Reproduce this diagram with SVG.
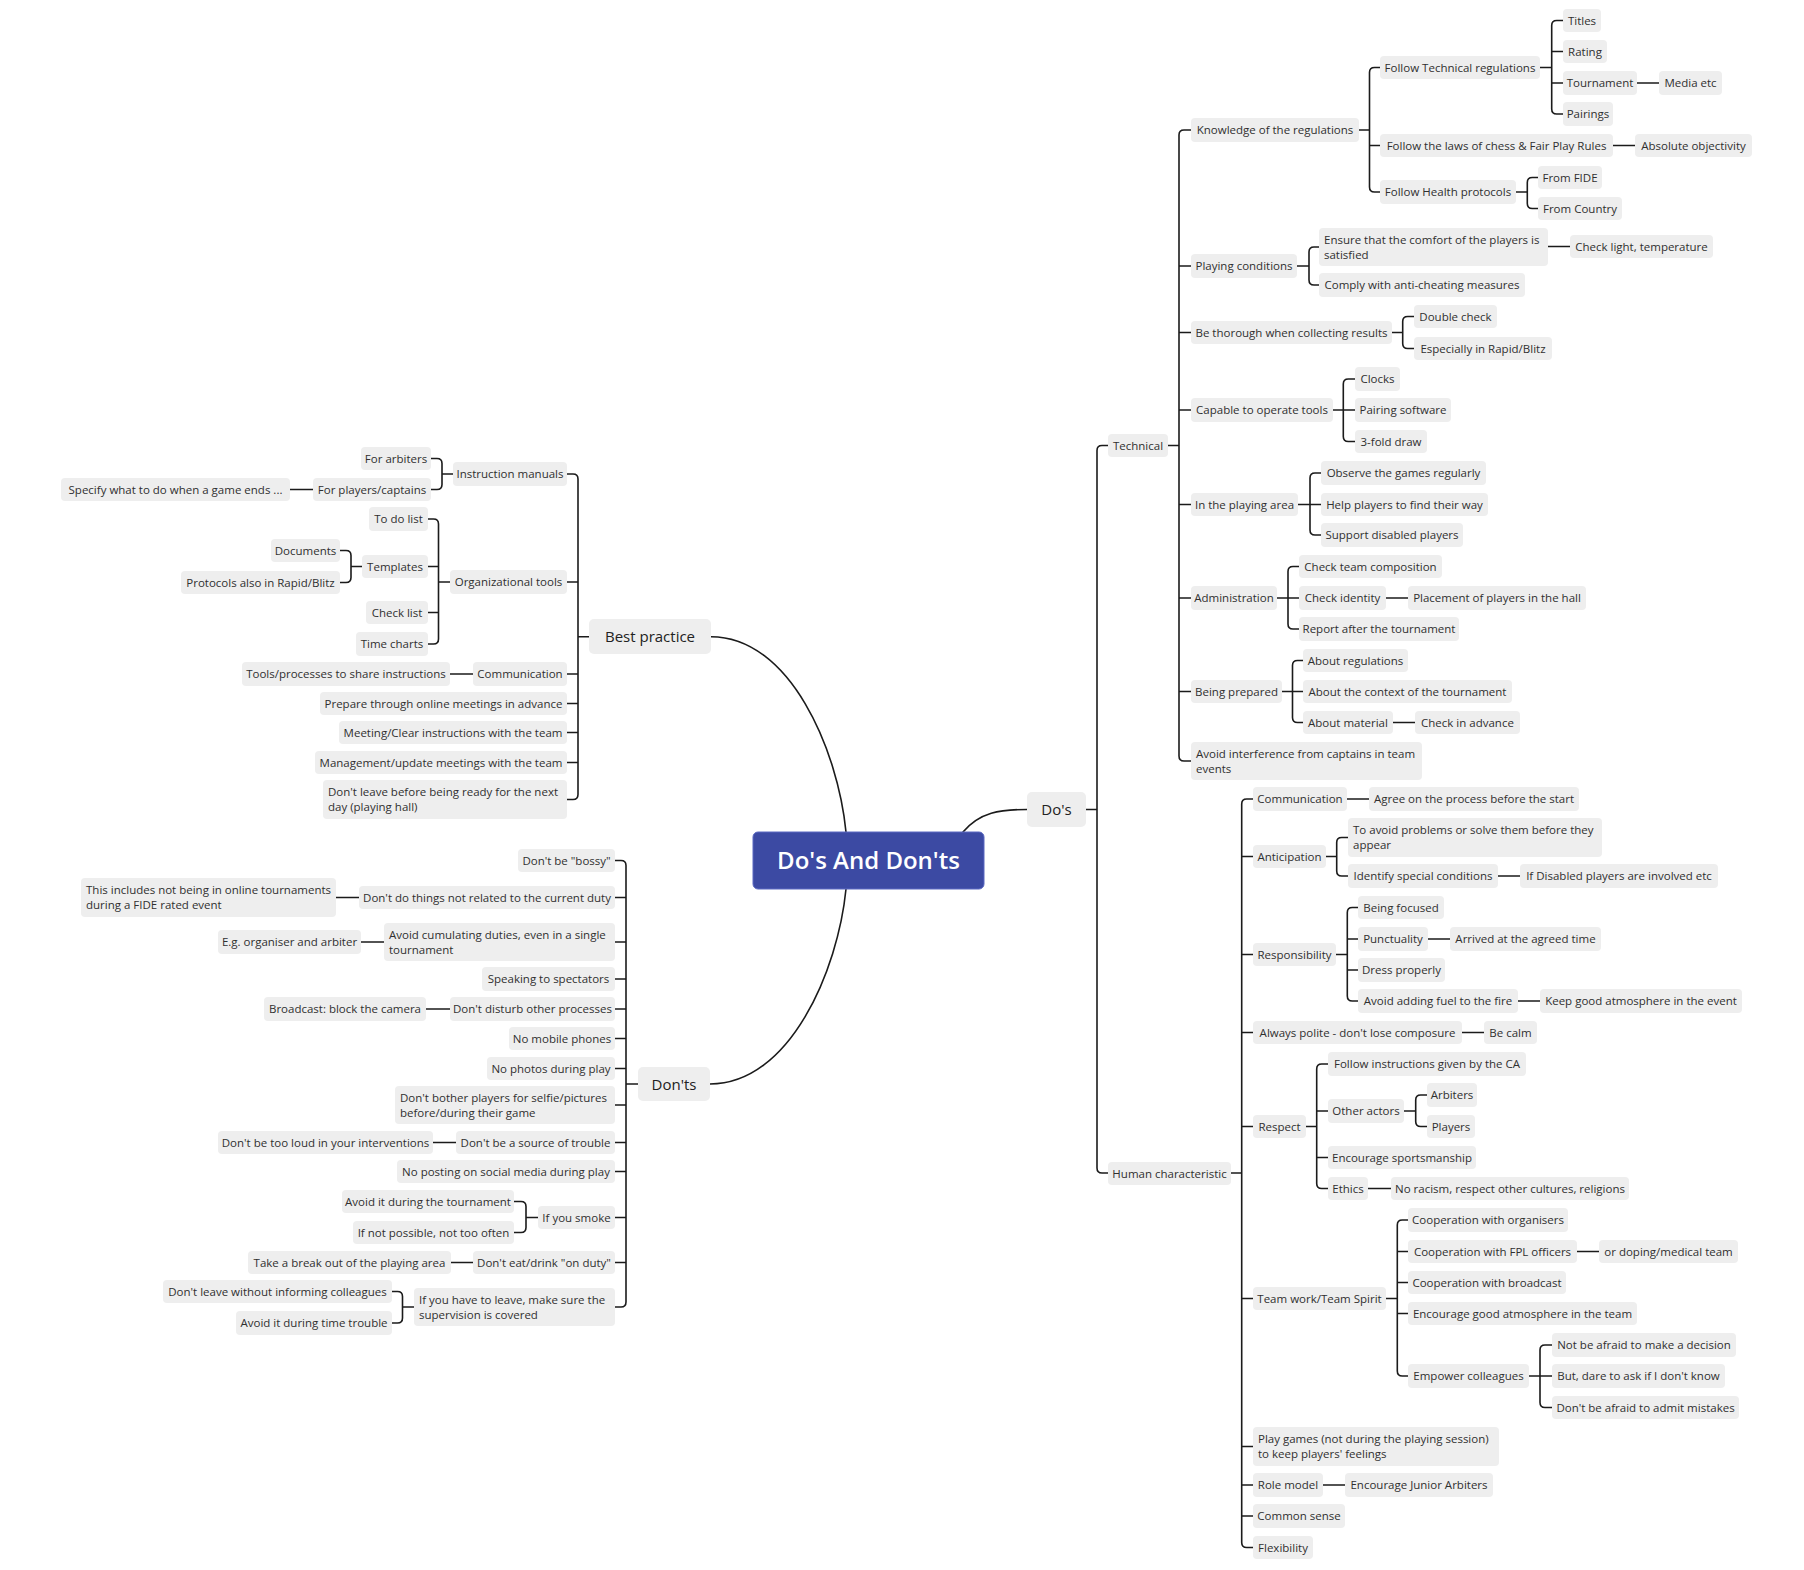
<svg xmlns="http://www.w3.org/2000/svg" width="1804" height="1570" viewBox="0 0 1804 1570">
<style>
.node rect{fill:#eeeeee}
.node text{font-family:"Open Sans","Noto Sans","Liberation Sans",sans-serif;font-size:11.5px;fill:#303030;text-anchor:middle}
.node text.l{text-anchor:start}
.main text{font-size:15px;fill:#222222}
#central rect{fill:#3c4aa3;stroke:#5a68c2;stroke-width:1}
#central text{font-family:"Open Sans","Noto Sans","Liberation Sans",sans-serif;font-size:24px;font-weight:600;fill:#ffffff;text-anchor:middle}
#connectors path{fill:none;stroke:#1b1b1b;stroke-width:1.6;stroke-linecap:round}
</style>
<rect width="1804" height="1570" fill="#ffffff"/>
<g id="connectors">
<path d="M711,636.7C790,636.7 838,750 846,832"/>
<path d="M710,1084C790,1084 838,970 846,889"/>
<path d="M963,832C980,812 1000,809.5 1027,809.5"/>
<path d="M589,636.7H578M567,474H573Q578,474 578,479V794.5Q578,799.5 573,799.5H567M578,582H567M578,674H567M578,703.5H567M578,732.5H567M578,762.5H567"/>
<path d="M453,474H442M431,458.5H437Q442,458.5 442,463.5V484.5Q442,489.5 437,489.5H431"/>
<path d="M313,489.5H290"/>
<path d="M450,582H438.5M428,519H433.5Q438.5,519 438.5,524V639Q438.5,644 433.5,644H428M438.5,566.5H428M438.5,612.5H428"/>
<path d="M362,566.5H351M340,550.5H346Q351,550.5 351,555.5V577.5Q351,582.5 346,582.5H340"/>
<path d="M473,674H450"/>
<path d="M638,1084H626M615,860.5H621Q626,860.5 626,865.5V1302Q626,1307 621,1307H615M626,897.5H615M626,942H615M626,979H615M626,1009H615M626,1038.5H615M626,1068.5H615M626,1105H615M626,1142.5H615M626,1171.5H615M626,1217.5H615M626,1262.5H615"/>
<path d="M359,897.5H336M384,942H361M450,1009H426M456,1142.5H433M473,1262.5H451"/>
<path d="M538,1217.5H526M514,1201.5H521Q526,1201.5 526,1206.5V1227.5Q526,1232.5 521,1232.5H514"/>
<path d="M414,1307H402.5M392,1291.5H397.5Q402.5,1291.5 402.5,1296.5V1318Q402.5,1323 397.5,1323H392"/>
<path d="M1086,809.5H1097M1108,445.5H1102Q1097,445.5 1097,450.5V1168Q1097,1173 1102,1173H1108"/>
<path d="M1168,445.5H1179M1191,130H1184Q1179,130 1179,135V756Q1179,761 1184,761H1191M1179,266H1191M1179,332.5H1191M1179,410H1191M1179,504.5H1191M1179,598H1191M1179,691.5H1191"/>
<path d="M1359,130H1369.5M1380,67.5H1374.5Q1369.5,67.5 1369.5,72.5V187Q1369.5,192 1374.5,192H1380M1369.5,145.5H1380"/>
<path d="M1540,67.5H1551.7M1563,20.5H1556.7Q1551.7,20.5 1551.7,25.5V109Q1551.7,114 1556.7,114H1563M1551.7,51.5H1563M1551.7,83H1563"/>
<path d="M1637,83H1659M1613,145.5H1635"/>
<path d="M1516,192H1527.3M1538,177.5H1532.3Q1527.3,177.5 1527.3,182.5V203.5Q1527.3,208.5 1532.3,208.5H1538"/>
<path d="M1297,266H1309M1319,247H1314Q1309,247 1309,252V280Q1309,285 1314,285H1319"/>
<path d="M1548,246.5H1570"/>
<path d="M1392,332.5H1402.7M1414,316.5H1407.7Q1402.7,316.5 1402.7,321.5V343.5Q1402.7,348.5 1407.7,348.5H1414"/>
<path d="M1333,410H1343.3M1355,379H1348.3Q1343.3,379 1343.3,384V436.5Q1343.3,441.5 1348.3,441.5H1355M1343.3,410H1355"/>
<path d="M1298,504.5H1310M1321,473H1315Q1310,473 1310,478V530Q1310,535 1315,535H1321M1310,504.5H1321"/>
<path d="M1277,598H1288M1299,566.5H1293Q1288,566.5 1288,571.5V624Q1288,629 1293,629H1299M1288,598H1299"/>
<path d="M1386,598H1408"/>
<path d="M1282,691.5H1292.5M1303,660.5H1297.5Q1292.5,660.5 1292.5,665.5V717.5Q1292.5,722.5 1297.5,722.5H1303M1292.5,691.5H1303"/>
<path d="M1393,722.5H1415"/>
<path d="M1231,1173H1241.7M1253,799H1246.7Q1241.7,799 1241.7,804V1542.5Q1241.7,1547.5 1246.7,1547.5H1253M1241.7,856.5H1253M1241.7,954.5H1253M1241.7,1032.5H1253M1241.7,1126.5H1253M1241.7,1298.5H1253M1241.7,1446.5H1253M1241.7,1485H1253M1241.7,1516H1253"/>
<path d="M1347,799H1369"/>
<path d="M1326,856.5H1336.7M1348,837.5H1341.7Q1336.7,837.5 1336.7,842.5V871Q1336.7,876 1341.7,876H1348"/>
<path d="M1498,876H1520"/>
<path d="M1336,954.5H1347.3M1358,907.5H1352.3Q1347.3,907.5 1347.3,912.5V996Q1347.3,1001 1352.3,1001H1358M1347.3,939H1358M1347.3,970H1358"/>
<path d="M1428,939H1450M1518,1001H1540M1462,1032.5H1484"/>
<path d="M1306,1126.5H1316.7M1328,1064H1321.7Q1316.7,1064 1316.7,1069V1183.5Q1316.7,1188.5 1321.7,1188.5H1328M1316.7,1111H1328M1316.7,1157.5H1328"/>
<path d="M1404,1111H1415.7M1427,1095H1420.7Q1415.7,1095 1415.7,1100V1121.5Q1415.7,1126.5 1420.7,1126.5H1427"/>
<path d="M1368,1188.5H1391"/>
<path d="M1386,1298.5H1397.3M1408,1220H1402.3Q1397.3,1220 1397.3,1225V1371Q1397.3,1376 1402.3,1376H1408M1397.3,1251.5H1408M1397.3,1282.5H1408M1397.3,1313.5H1408"/>
<path d="M1577,1251.5H1599"/>
<path d="M1529,1376H1540M1552,1345H1545Q1540,1345 1540,1350V1402.5Q1540,1407.5 1545,1407.5H1552M1540,1376H1552"/>
<path d="M1323,1485H1345"/>
</g>
<g id="central"><rect x="753" y="832" width="231" height="57" rx="5"/><text x="868.5" y="869">Do's And Don'ts</text></g>
<g id="best-practice" class="node main"><rect x="589" y="619" width="122" height="35" rx="5"/><text x="650" y="642">Best practice</text></g>
<g id="donts" class="node main"><rect x="638" y="1067" width="72" height="34" rx="5"/><text x="674" y="1089.5">Don'ts</text></g>
<g id="dos" class="node main"><rect x="1027" y="792" width="59" height="35" rx="5"/><text x="1056.5" y="815">Do's</text></g>
<g id="bp-arbiters" class="node"><rect x="361" y="447" width="70" height="23" rx="4"/><text x="396" y="462.5">For arbiters</text></g>
<g id="bp-players" class="node"><rect x="313" y="478" width="118" height="23" rx="4"/><text x="372" y="493.5">For players/captains</text></g>
<g id="bp-specify" class="node"><rect x="61" y="478" width="229" height="23" rx="4"/><text x="175.5" y="493.5">Specify what to do when a game ends ...</text></g>
<g id="bp-manuals" class="node"><rect x="453" y="462" width="114" height="24" rx="4"/><text x="510" y="478">Instruction manuals</text></g>
<g id="bp-todo" class="node"><rect x="369" y="507" width="59" height="24" rx="4"/><text x="398.5" y="523">To do list</text></g>
<g id="bp-docs" class="node"><rect x="271" y="539" width="69" height="23" rx="4"/><text x="305.5" y="554.5">Documents</text></g>
<g id="bp-templates" class="node"><rect x="362" y="555" width="66" height="23" rx="4"/><text x="395" y="570.5">Templates</text></g>
<g id="bp-protocols" class="node"><rect x="181" y="571" width="159" height="23" rx="4"/><text x="260.5" y="586.5">Protocols also in Rapid/Blitz</text></g>
<g id="bp-org" class="node"><rect x="450" y="570" width="117" height="24" rx="4"/><text x="508.5" y="586">Organizational tools</text></g>
<g id="bp-check" class="node"><rect x="366" y="601" width="62" height="23" rx="4"/><text x="397" y="616.5">Check list</text></g>
<g id="bp-time" class="node"><rect x="356" y="632" width="72" height="24" rx="4"/><text x="392" y="648">Time charts</text></g>
<g id="bp-comm" class="node"><rect x="473" y="662" width="94" height="24" rx="4"/><text x="520" y="678">Communication</text></g>
<g id="bp-tools" class="node"><rect x="242" y="662" width="208" height="24" rx="4"/><text x="346" y="678">Tools/processes to share instructions</text></g>
<g id="bp-prepare" class="node"><rect x="320" y="692" width="247" height="23" rx="4"/><text x="443.5" y="707.5">Prepare through online meetings in advance</text></g>
<g id="bp-meeting" class="node"><rect x="339" y="721" width="228" height="23" rx="4"/><text x="453" y="736.5">Meeting/Clear instructions with the team</text></g>
<g id="bp-mgmt" class="node"><rect x="315" y="751" width="252" height="23" rx="4"/><text x="441" y="766.5">Management/update meetings with the team</text></g>
<g id="bp-leave" class="node"><rect x="323" y="780" width="244" height="39" rx="4"/><text class="l" x="328" y="796">Don't leave before being ready for the next</text><text class="l" x="328" y="811">day (playing hall)</text></g>
<g id="d-bossy" class="node"><rect x="518" y="849" width="97" height="23" rx="4"/><text x="566.5" y="864.5">Don't be "bossy"</text></g>
<g id="d-duty" class="node"><rect x="359" y="886" width="256" height="23" rx="4"/><text x="487" y="901.5">Don't do things not related to the current duty</text></g>
<g id="d-online" class="node"><rect x="81" y="878" width="255" height="39" rx="4"/><text class="l" x="86" y="894">This includes not being in online tournaments</text><text class="l" x="86" y="909">during a FIDE rated event</text></g>
<g id="d-cumul" class="node"><rect x="384" y="923" width="231" height="38" rx="4"/><text class="l" x="389" y="938.5">Avoid cumulating duties, even in a single</text><text class="l" x="389" y="953.5">tournament</text></g>
<g id="d-eg" class="node"><rect x="218" y="930" width="143" height="24" rx="4"/><text x="289.5" y="946">E.g. organiser and arbiter</text></g>
<g id="d-spect" class="node"><rect x="482" y="967" width="133" height="24" rx="4"/><text x="548.5" y="983">Speaking to spectators</text></g>
<g id="d-disturb" class="node"><rect x="450" y="997" width="165" height="24" rx="4"/><text x="532.5" y="1013">Don't disturb other processes</text></g>
<g id="d-camera" class="node"><rect x="264" y="997" width="162" height="24" rx="4"/><text x="345" y="1013">Broadcast: block the camera</text></g>
<g id="d-mobile" class="node"><rect x="509" y="1027" width="106" height="23" rx="4"/><text x="562" y="1042.5">No mobile phones</text></g>
<g id="d-photos" class="node"><rect x="487" y="1057" width="128" height="23" rx="4"/><text x="551" y="1072.5">No photos during play</text></g>
<g id="d-selfie" class="node"><rect x="395" y="1086" width="220" height="38" rx="4"/><text class="l" x="400" y="1101.5">Don't bother players for selfie/pictures</text><text class="l" x="400" y="1116.5">before/during their game</text></g>
<g id="d-trouble" class="node"><rect x="456" y="1131" width="159" height="23" rx="4"/><text x="535.5" y="1146.5">Don't be a source of trouble</text></g>
<g id="d-loud" class="node"><rect x="218" y="1131" width="215" height="23" rx="4"/><text x="325.5" y="1146.5">Don't be too loud in your interventions</text></g>
<g id="d-social" class="node"><rect x="397" y="1160" width="218" height="23" rx="4"/><text x="506" y="1175.5">No posting on social media during play</text></g>
<g id="d-smoke" class="node"><rect x="538" y="1206" width="77" height="23" rx="4"/><text x="576.5" y="1221.5">If you smoke</text></g>
<g id="d-smoke-a" class="node"><rect x="342" y="1190" width="172" height="23" rx="4"/><text x="428" y="1205.5">Avoid it during the tournament</text></g>
<g id="d-smoke-b" class="node"><rect x="353" y="1221" width="161" height="23" rx="4"/><text x="433.5" y="1236.5">If not possible, not too often</text></g>
<g id="d-eat" class="node"><rect x="473" y="1251" width="142" height="23" rx="4"/><text x="544" y="1266.5">Don't eat/drink "on duty"</text></g>
<g id="d-break" class="node"><rect x="248" y="1251" width="203" height="23" rx="4"/><text x="349.5" y="1266.5">Take a break out of the playing area</text></g>
<g id="d-leave" class="node"><rect x="414" y="1288" width="201" height="38" rx="4"/><text class="l" x="419" y="1303.5">If you have to leave, make sure the</text><text class="l" x="419" y="1318.5">supervision is covered</text></g>
<g id="d-leave-a" class="node"><rect x="163" y="1280" width="229" height="23" rx="4"/><text x="277.5" y="1295.5">Don't leave without informing colleagues</text></g>
<g id="d-leave-b" class="node"><rect x="236" y="1311" width="156" height="24" rx="4"/><text x="314" y="1327">Avoid it during time trouble</text></g>
<g id="technical" class="node"><rect x="1108" y="434" width="60" height="23" rx="4"/><text x="1138" y="449.5">Technical</text></g>
<g id="t-knowledge" class="node"><rect x="1191" y="118" width="168" height="24" rx="4"/><text x="1275" y="134">Knowledge of the regulations</text></g>
<g id="t-techreg" class="node"><rect x="1380" y="56" width="160" height="23" rx="4"/><text x="1460" y="71.5">Follow Technical regulations</text></g>
<g id="t-titles" class="node"><rect x="1563" y="9" width="38" height="23" rx="4"/><text x="1582" y="24.5">Titles</text></g>
<g id="t-rating" class="node"><rect x="1563" y="40" width="44" height="23" rx="4"/><text x="1585" y="55.5">Rating</text></g>
<g id="t-tournament" class="node"><rect x="1563" y="71" width="74" height="24" rx="4"/><text x="1600" y="87">Tournament</text></g>
<g id="t-media" class="node"><rect x="1659" y="71" width="63" height="24" rx="4"/><text x="1690.5" y="87">Media etc</text></g>
<g id="t-pairings" class="node"><rect x="1563" y="102" width="50" height="24" rx="4"/><text x="1588" y="118">Pairings</text></g>
<g id="t-laws" class="node"><rect x="1380" y="134" width="233" height="23" rx="4"/><text x="1496.5" y="149.5">Follow the laws of chess &amp; Fair Play Rules</text></g>
<g id="t-objectivity" class="node"><rect x="1635" y="134" width="117" height="23" rx="4"/><text x="1693.5" y="149.5">Absolute objectivity</text></g>
<g id="t-health" class="node"><rect x="1380" y="180" width="136" height="24" rx="4"/><text x="1448" y="196">Follow Health protocols</text></g>
<g id="t-fide" class="node"><rect x="1538" y="166" width="64" height="23" rx="4"/><text x="1570" y="181.5">From FIDE</text></g>
<g id="t-country" class="node"><rect x="1538" y="197" width="84" height="23" rx="4"/><text x="1580" y="212.5">From Country</text></g>
<g id="t-playing" class="node"><rect x="1191" y="254" width="106" height="24" rx="4"/><text x="1244" y="270">Playing conditions</text></g>
<g id="t-comfort" class="node"><rect x="1319" y="228" width="229" height="38" rx="4"/><text class="l" x="1324" y="243.5">Ensure that the comfort of the players is</text><text class="l" x="1324" y="258.5">satisfied</text></g>
<g id="t-light" class="node"><rect x="1570" y="235" width="143" height="23" rx="4"/><text x="1641.5" y="250.5">Check light, temperature</text></g>
<g id="t-cheating" class="node"><rect x="1319" y="273" width="206" height="24" rx="4"/><text x="1422" y="289">Comply with anti-cheating measures</text></g>
<g id="t-results" class="node"><rect x="1191" y="321" width="201" height="23" rx="4"/><text x="1291.5" y="336.5">Be thorough when collecting results</text></g>
<g id="t-double" class="node"><rect x="1414" y="305" width="83" height="23" rx="4"/><text x="1455.5" y="320.5">Double check</text></g>
<g id="t-rapid" class="node"><rect x="1414" y="337" width="138" height="23" rx="4"/><text x="1483" y="352.5">Especially in Rapid/Blitz</text></g>
<g id="t-tools" class="node"><rect x="1191" y="398" width="142" height="24" rx="4"/><text x="1262" y="414">Capable to operate tools</text></g>
<g id="t-clocks" class="node"><rect x="1355" y="367" width="45" height="24" rx="4"/><text x="1377.5" y="383">Clocks</text></g>
<g id="t-pairsoft" class="node"><rect x="1355" y="398" width="96" height="24" rx="4"/><text x="1403" y="414">Pairing software</text></g>
<g id="t-3fold" class="node"><rect x="1355" y="430" width="72" height="23" rx="4"/><text x="1391" y="445.5">3-fold draw</text></g>
<g id="t-area" class="node"><rect x="1191" y="493" width="107" height="23" rx="4"/><text x="1244.5" y="508.5">In the playing area</text></g>
<g id="t-observe" class="node"><rect x="1321" y="461" width="165" height="24" rx="4"/><text x="1403.5" y="477">Observe the games regularly</text></g>
<g id="t-help" class="node"><rect x="1321" y="493" width="167" height="23" rx="4"/><text x="1404.5" y="508.5">Help players to find their way</text></g>
<g id="t-disabled" class="node"><rect x="1321" y="523" width="142" height="24" rx="4"/><text x="1392" y="539">Support disabled players</text></g>
<g id="t-admin" class="node"><rect x="1191" y="586" width="86" height="24" rx="4"/><text x="1234" y="602">Administration</text></g>
<g id="t-team" class="node"><rect x="1299" y="555" width="143" height="23" rx="4"/><text x="1370.5" y="570.5">Check team composition</text></g>
<g id="t-identity" class="node"><rect x="1299" y="586" width="87" height="24" rx="4"/><text x="1342.5" y="602">Check identity</text></g>
<g id="t-placement" class="node"><rect x="1408" y="586" width="178" height="24" rx="4"/><text x="1497" y="602">Placement of players in the hall</text></g>
<g id="t-report" class="node"><rect x="1299" y="617" width="160" height="24" rx="4"/><text x="1379" y="633">Report after the tournament</text></g>
<g id="t-prepared" class="node"><rect x="1191" y="680" width="91" height="23" rx="4"/><text x="1236.5" y="695.5">Being prepared</text></g>
<g id="t-aboutreg" class="node"><rect x="1303" y="649" width="105" height="23" rx="4"/><text x="1355.5" y="664.5">About regulations</text></g>
<g id="t-context" class="node"><rect x="1303" y="680" width="209" height="23" rx="4"/><text x="1407.5" y="695.5">About the context of the tournament</text></g>
<g id="t-material" class="node"><rect x="1303" y="711" width="90" height="23" rx="4"/><text x="1348" y="726.5">About material</text></g>
<g id="t-advance" class="node"><rect x="1415" y="711" width="105" height="23" rx="4"/><text x="1467.5" y="726.5">Check in advance</text></g>
<g id="t-captains" class="node"><rect x="1191" y="742" width="231" height="38" rx="4"/><text class="l" x="1196" y="757.5">Avoid interference from captains in team</text><text class="l" x="1196" y="772.5">events</text></g>
<g id="human" class="node"><rect x="1108" y="1162" width="123" height="23" rx="4"/><text x="1169.5" y="1177.5">Human characteristic</text></g>
<g id="h-comm" class="node"><rect x="1253" y="787" width="94" height="24" rx="4"/><text x="1300" y="803">Communication</text></g>
<g id="h-agree" class="node"><rect x="1369" y="787" width="210" height="24" rx="4"/><text x="1474" y="803">Agree on the process before the start</text></g>
<g id="h-anticip" class="node"><rect x="1253" y="845" width="73" height="23" rx="4"/><text x="1289.5" y="860.5">Anticipation</text></g>
<g id="h-avoid" class="node"><rect x="1348" y="818" width="254" height="39" rx="4"/><text class="l" x="1353" y="834">To avoid problems or solve them before they</text><text class="l" x="1353" y="849">appear</text></g>
<g id="h-identify" class="node"><rect x="1348" y="864" width="150" height="24" rx="4"/><text x="1423" y="880">Identify special conditions</text></g>
<g id="h-disabled" class="node"><rect x="1520" y="864" width="198" height="24" rx="4"/><text x="1619" y="880">If Disabled players are involved etc</text></g>
<g id="h-resp" class="node"><rect x="1253" y="943" width="83" height="23" rx="4"/><text x="1294.5" y="958.5">Responsibility</text></g>
<g id="h-focused" class="node"><rect x="1358" y="896" width="86" height="23" rx="4"/><text x="1401" y="911.5">Being focused</text></g>
<g id="h-punct" class="node"><rect x="1358" y="927" width="70" height="24" rx="4"/><text x="1393" y="943">Punctuality</text></g>
<g id="h-arrived" class="node"><rect x="1450" y="927" width="151" height="24" rx="4"/><text x="1525.5" y="943">Arrived at the agreed time</text></g>
<g id="h-dress" class="node"><rect x="1358" y="958" width="87" height="24" rx="4"/><text x="1401.5" y="974">Dress properly</text></g>
<g id="h-fuel" class="node"><rect x="1358" y="989" width="160" height="24" rx="4"/><text x="1438" y="1005">Avoid adding fuel to the fire</text></g>
<g id="h-atmos" class="node"><rect x="1540" y="989" width="202" height="24" rx="4"/><text x="1641" y="1005">Keep good atmosphere in the event</text></g>
<g id="h-polite" class="node"><rect x="1253" y="1021" width="209" height="23" rx="4"/><text x="1357.5" y="1036.5">Always polite - don't lose composure</text></g>
<g id="h-calm" class="node"><rect x="1484" y="1021" width="53" height="23" rx="4"/><text x="1510.5" y="1036.5">Be calm</text></g>
<g id="h-respect" class="node"><rect x="1253" y="1115" width="53" height="23" rx="4"/><text x="1279.5" y="1130.5">Respect</text></g>
<g id="h-ca" class="node"><rect x="1328" y="1052" width="198" height="24" rx="4"/><text x="1427" y="1068">Follow instructions given by the CA</text></g>
<g id="h-actors" class="node"><rect x="1328" y="1099" width="76" height="24" rx="4"/><text x="1366" y="1115">Other actors</text></g>
<g id="h-arbiters" class="node"><rect x="1427" y="1083" width="50" height="24" rx="4"/><text x="1452" y="1099">Arbiters</text></g>
<g id="h-players" class="node"><rect x="1427" y="1115" width="48" height="23" rx="4"/><text x="1451" y="1130.5">Players</text></g>
<g id="h-sport" class="node"><rect x="1328" y="1146" width="148" height="23" rx="4"/><text x="1402" y="1161.5">Encourage sportsmanship</text></g>
<g id="h-ethics" class="node"><rect x="1328" y="1177" width="40" height="23" rx="4"/><text x="1348" y="1192.5">Ethics</text></g>
<g id="h-racism" class="node"><rect x="1391" y="1177" width="238" height="23" rx="4"/><text x="1510" y="1192.5">No racism, respect other cultures, religions</text></g>
<g id="h-teamwork" class="node"><rect x="1253" y="1287" width="133" height="23" rx="4"/><text x="1319.5" y="1302.5">Team work/Team Spirit</text></g>
<g id="h-organisers" class="node"><rect x="1408" y="1208" width="160" height="24" rx="4"/><text x="1488" y="1224">Cooperation with organisers</text></g>
<g id="h-fpl" class="node"><rect x="1408" y="1240" width="169" height="23" rx="4"/><text x="1492.5" y="1255.5">Cooperation with FPL officers</text></g>
<g id="h-doping" class="node"><rect x="1599" y="1240" width="139" height="23" rx="4"/><text x="1668.5" y="1255.5">or doping/medical team</text></g>
<g id="h-broadcast" class="node"><rect x="1408" y="1271" width="158" height="23" rx="4"/><text x="1487" y="1286.5">Cooperation with broadcast</text></g>
<g id="h-teamatmos" class="node"><rect x="1408" y="1302" width="229" height="23" rx="4"/><text x="1522.5" y="1317.5">Encourage good atmosphere in the team</text></g>
<g id="h-empower" class="node"><rect x="1408" y="1364" width="121" height="24" rx="4"/><text x="1468.5" y="1380">Empower colleagues</text></g>
<g id="h-decision" class="node"><rect x="1552" y="1333" width="184" height="24" rx="4"/><text x="1644" y="1349">Not be afraid to make a decision</text></g>
<g id="h-ask" class="node"><rect x="1552" y="1364" width="173" height="24" rx="4"/><text x="1638.5" y="1380">But, dare to ask if I don't know</text></g>
<g id="h-mistakes" class="node"><rect x="1552" y="1396" width="187" height="23" rx="4"/><text x="1645.5" y="1411.5">Don't be afraid to admit mistakes</text></g>
<g id="h-games" class="node"><rect x="1253" y="1427" width="246" height="39" rx="4"/><text class="l" x="1258" y="1443">Play games (not during the playing session)</text><text class="l" x="1258" y="1458">to keep players' feelings</text></g>
<g id="h-role" class="node"><rect x="1253" y="1473" width="70" height="24" rx="4"/><text x="1288" y="1489">Role model</text></g>
<g id="h-junior" class="node"><rect x="1345" y="1473" width="148" height="24" rx="4"/><text x="1419" y="1489">Encourage Junior Arbiters</text></g>
<g id="h-sense" class="node"><rect x="1253" y="1504" width="92" height="24" rx="4"/><text x="1299" y="1520">Common sense</text></g>
<g id="h-flex" class="node"><rect x="1253" y="1536" width="60" height="23" rx="4"/><text x="1283" y="1551.5">Flexibility</text></g>
</svg>
